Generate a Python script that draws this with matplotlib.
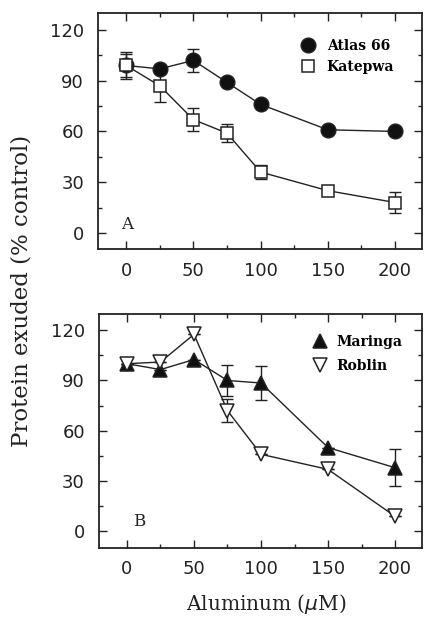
import matplotlib
matplotlib.use("Agg")
import matplotlib.pyplot as plt
from matplotlib.ticker import MultipleLocator

# DATA
conc = [0, 25, 50, 75, 100, 150, 200]

atlas = [99, 97, 102, 89, 76, 61, 60]
atlas_err = [8, 0, 7, 0, 0, 0, 0]
katepwa = [99, 87, 67, 59, 36, 25, 18]
katepwa_err = [7, 9.5, 7, 5.5, 4, 0, 6.5]

maringa = [100, 96.5, 102.5, 90, 88.5, 50, 38]
maringa_err = [0, 0, 0, 9, 10, 0, 11]
roblin = [100, 101, 117.5, 72, 46, 37, 9]
roblin_err = [0, 0, 0, 7, 0, 0, 0]

xticks = [0, 50, 100, 150, 200]
yticks = [0, 30, 60, 90, 120]

INK = '#222222'
plt.rcParams['font.family'] = ['DejaVu Sans']

fig = plt.figure(figsize=(4.24, 6.21), dpi=100)
axA = fig.add_axes([0.231, 0.599, 0.764, 0.380])
axB = fig.add_axes([0.233, 0.118, 0.762, 0.376])


def style(ax, ylim):
    ax.set_xlim(-21, 220)
    ax.set_ylim(*ylim)
    ax.set_xticks(xticks)
    ax.set_yticks(yticks)
    ax.xaxis.set_minor_locator(MultipleLocator(25))
    ax.yaxis.set_minor_locator(MultipleLocator(15))
    ax.tick_params(which='both', direction='in', top=True, right=True,
                   labelsize=13, colors=INK, width=1.0)
    ax.tick_params(which='major', length=5.5)
    ax.tick_params(axis='y', which='major', pad=10)
    ax.tick_params(axis='x', which='major', pad=9)
    ax.tick_params(which='minor', length=3)
    for s in ax.spines.values():
        s.set_linewidth(1.3)
        s.set_color(INK)


def series(ax, y, err, marker, face, label, ms):
    ax.errorbar(conc, y, yerr=err, fmt='none', ecolor=INK, capsize=4.5,
                elinewidth=1.0, capthick=1.0, zorder=2)
    ax.plot(conc, y, color=INK, lw=1.0, marker=marker, ms=ms,
            mfc=face, mec=INK, mew=1.1, label=label, zorder=3)


def legend(ax, anchor, tpad, lspace):
    leg = ax.legend(loc='upper left', bbox_to_anchor=anchor, frameon=False,
                    handlelength=0, handletextpad=tpad, labelspacing=lspace,
                    borderaxespad=0,
                    prop={'family': 'DejaVu Serif', 'weight': 'bold',
                          'size': 10})
    for h in leg.legend_handles:
        h.set_linestyle('none')


style(axA, (-9.5, 130))
series(axA, atlas, atlas_err, 'o', '#111111', 'Atlas 66', 10.5)
series(axA, katepwa, katepwa_err, 's', 'white', 'Katepwa', 9)
axA.text(1, 5, 'A', family='DejaVu Serif', fontsize=12, color=INK,
         ha='center', va='center')
legend(axA, (0.631, 0.913), 1.35, 0.5)

style(axB, (-9.7, 129.5))
series(axB, maringa, maringa_err, '^', '#111111', 'Maringa', 10)
series(axB, roblin, roblin_err, 'v', 'white', 'Roblin', 10)
axB.text(9, 6, 'B', family='DejaVu Serif', fontsize=12, color=INK,
         ha='center', va='center')
legend(axB, (0.667, 0.934), 1.2, 0.7)

fig.text(0.05, 0.531, 'Protein exuded (% control)', rotation=90,
         ha='center', va='center', family='DejaVu Serif', fontsize=16.5,
         color=INK)
fig.text(0.628, 0.027, 'Aluminum ($\\mu$M)', ha='center', va='center',
         family='DejaVu Serif', fontsize=14.5, color=INK)

fig.savefig('out.png', dpi=100)
